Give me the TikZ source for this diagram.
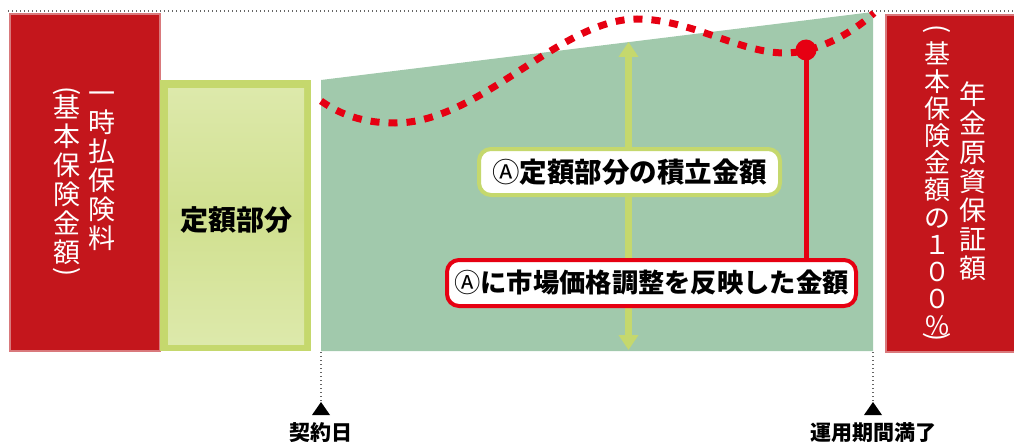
\documentclass[tikz,border=0pt]{standalone}
\usepackage{fontspec}
\setmainfont{Noto Sans CJK JP}
\usetikzlibrary{arrows.meta}
\definecolor{boxred}{HTML}{C4161C}
\definecolor{boxredlt}{HTML}{D9797C}
\definecolor{lime}{HTML}{C5D86D}
\definecolor{limelt}{HTML}{DDE9AB}
\definecolor{limemid}{HTML}{D0E08F}
\definecolor{areagreen}{HTML}{A1C9AC}
\definecolor{wavered}{HTML}{E60012}
\definecolor{dotgray}{HTML}{666666}
\newcommand{\vopen}{\rotatebox[origin=c]{-90}{(}}
\newcommand{\vclose}{\rotatebox[origin=c]{-90}{)}}
\newcommand{\circA}{{\mdseries Ⓐ}}
\begin{document}
\begin{tikzpicture}[x=1pt,y=-1pt,
  redbox/.style={fill=boxred, draw=boxredlt, line width=2pt, inner sep=0pt, anchor=north west},
  vtext/.style={text=white, align=center, inner sep=0pt, font=\fontsize{27}{29}\selectfont},
  vtextb/.style={text=white, align=center, inner sep=0pt, font=\fontsize{26}{27.2}\selectfont},
  vparen/.style={text=white, inner sep=0pt, font=\fontsize{27}{27}\selectfont},
  labelbox/.style={rounded corners=12pt, fill=white, line width=4pt, inner sep=0pt, minimum height=46pt},
  dotline/.style={dotgray, line width=1.6pt, dash pattern=on 1.3pt off 2.7pt},
  wave/.style={wavered, line width=7pt, dash pattern=on 9pt off 9pt},
  datelabel/.style={font=\bfseries\fontsize{21}{21}\selectfont, inner sep=0pt}
]
\useasboundingbox (0,0) rectangle (1014,444);

% top dotted line
\coordinate (topL) at (8,11);
\coordinate (topR) at (1014,11);
\draw[dotline] (topL) -- (topR);

% left red box
\node[redbox, minimum width=150pt, minimum height=337pt] (leftbox) at (9,13) {};
\node[vtext] (lt1) at (102,171) {一\\時\\払\\保\\険\\料};
\node[vtext] (lt2) at (67,180) {基\\本\\保\\険\\金\\額};
\node[vparen] (lt2o) at (67,93) {\vopen};
\node[vparen] (lt2c) at (67,274) {\vclose};

% fixed part box
\node[fill=lime, minimum width=151pt, minimum height=271pt, inner sep=0pt, anchor=north west] (fixbox) at (160,80) {};
\node[top color=limelt, bottom color=limelt, middle color=limemid, minimum width=136pt, minimum height=256pt, inner sep=0pt] (fixinner) at (236,216) {};
\node[font=\bfseries\fontsize{28}{28}\selectfont, inner sep=0pt] (fixtext) at (236,220) {定額部分};

% green area
\coordinate (aTL) at (321,80);
\coordinate (aTR) at (873,12);
\coordinate (aBR) at (873,351);
\coordinate (aBL) at (321,351);
\fill[areagreen] (aTL) -- (aTR) -- (aBR) -- (aBL) -- cycle;

% green double arrow
\coordinate (atop) at (628.5,42);
\coordinate (abot) at (628.5,350);
\draw[lime, line width=7pt, {Triangle[width=19pt,length=15pt]}-{Triangle[width=19pt,length=15pt]}] (atop) -- (abot);

% wave
\draw[wave] (321,101) .. controls (345,118) and (370,123) .. (395,123)
  .. controls (480,123) and (560,19) .. (637,19)
  .. controls (690,19) and (740,53) .. (785,53)
  .. controls (815,53) and (850,35) .. (874,13);

% labels
\node[labelbox, draw=lime, minimum width=301pt, font=\bfseries\fontsize{27.5}{30}\selectfont] (lab1) at (629.5,172) {\circA 定額部分の積立金額};
\node[circle, fill=wavered, minimum size=21pt, inner sep=0pt] (dot) at (806,50) {};
\draw[wavered, line width=5pt] (dot.center) -- (dot.center |- 0,262);
\node[labelbox, draw=wavered, minimum width=409pt, font=\bfseries\fontsize{26.3}{30}\selectfont] (lab2) at (651.5,283) {\circA に市場価格調整を反映した金額};

% right red box
\node[redbox, minimum width=140pt, minimum height=337pt] (rightbox) at (885,14) {};
\node[vtext] (rt1) at (973,181) {年\\金\\原\\資\\保\\証\\額};
\node[vtextb] (rt2) at (937,189) {基\\本\\保\\険\\金\\額\\の\\１\\０\\０\\％};
\node[vparen] (rt2o) at (937,31) {\vopen};
\node[vparen] (rt2c) at (937,339) {\vclose};

% timeline markers
\coordinate (m1a) at (321,352);
\coordinate (m1b) at (321,402);
\coordinate (m2a) at (873,352);
\coordinate (m2b) at (873,402);
\draw[dotline] (m1a) -- (m1b);
\draw[dotline] (m2a) -- (m2b);
\fill (m1b) -- ++(9,13) -- ++(-18,0) -- cycle;
\fill (m2b) -- ++(9,13) -- ++(-18,0) -- cycle;
\node[datelabel] (d1) at (321,433) {契約日};
\node[datelabel] (d2) at (873,433) {運用期間満了};
\end{tikzpicture}
\end{document}
